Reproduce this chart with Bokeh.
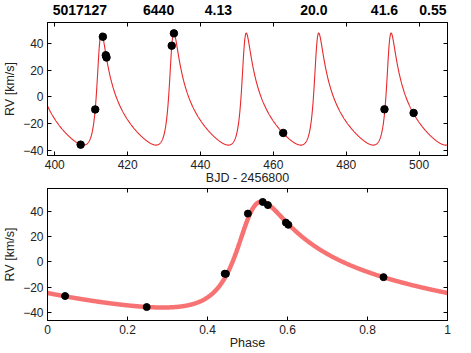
import numpy as np
from bokeh.plotting import figure
from bokeh.models import LinearAxis, Range1d, FixedTicker, CustomJSTickFormatter
from bokeh.layouts import column
from bokeh.embed import file_html
from bokeh.resources import INLINE

# ---- header values (KIC, Teff, logg, P, K, e) ----
header_labels = ["5017127", "6440", "4.13", "20.0", "41.6", "0.55"]
header_x = [406.9, 428.5, 444.9, 471.1, 490.5, 503.8]

# ---- observations ----
bjd = [407.1, 411.1, 413.2, 414.0, 414.2, 432.1, 432.7, 462.7, 490.5, 498.5]
rv = [-35.6, -9.4, 44.8, 31.0, 29.3, 38.1, 47.3, -26.9, -9.3, -12.0]
phase = [0.248, 0.446, 0.551, 0.596, 0.602, 0.501, 0.538, 0.044, 0.443, 0.840]

# ---- Keplerian orbit parameters ----
P_orb = 19.88
T_peri = 412.19
T_zero = 402.17
K_amp = 41.75
ecc = 0.55
omega_deg = 317.0
gamma = -11.0

x_ticks_top = [400, 420, 440, 460, 480, 500]
y_ticks = [-40, -20, 0, 20, 40]
x_ticks_bot = [0, 0.2, 0.4, 0.6, 0.8, 1]


def kepler_rv(t):
    M = 2 * np.pi * (np.asarray(t) - T_peri) / P_orb
    E = M.copy()
    for _ in range(60):
        E = E - (E - ecc * np.sin(E) - M) / (1 - ecc * np.cos(E))
    nu = 2 * np.arctan2(np.sqrt(1 + ecc) * np.sin(E / 2), np.sqrt(1 - ecc) * np.cos(E / 2))
    w = np.radians(omega_deg)
    return gamma + K_amp * (np.cos(nu + w) + ecc * np.cos(w))


FONT = "Liberation Sans"
TXT = "#222222"


def style(p, xticks, yticks, xlabel, xfmt=None):
    for ax in (p.xaxis[0], p.yaxis[0]):
        ax.major_tick_in = 4
        ax.major_tick_out = 0
        ax.minor_tick_line_color = None
        ax.axis_line_color = "black"
        ax.major_tick_line_color = "black"
        ax.major_label_text_font = FONT
        ax.major_label_text_font_size = "12px"
        ax.major_label_text_color = TXT
        ax.axis_label_text_font = FONT
        ax.axis_label_text_font_size = "12.5px"
        ax.axis_label_text_font_style = "normal"
        ax.axis_label_text_color = TXT
    p.xaxis[0].ticker = FixedTicker(ticks=xticks)
    p.yaxis[0].ticker = FixedTicker(ticks=yticks)
    p.xaxis[0].major_label_standoff = 4
    p.xaxis[0].axis_label_standoff = -1
    p.xaxis[0].axis_label = xlabel
    p.yaxis[0].major_label_standoff = 4
    p.yaxis[0].axis_label_standoff = 3
    p.yaxis[0].axis_label = "RV [km/s]"
    if xfmt is not None:
        p.xaxis[0].formatter = xfmt
    for loc, tk in (("right", yticks), ("above", xticks)):
        a = LinearAxis(ticker=FixedTicker(ticks=tk), major_tick_in=4, major_tick_out=0,
                       minor_tick_line_color=None, major_label_text_font_size="1px",
                       major_label_text_color=None, major_label_standoff=0,
                       axis_line_color="black")
        p.add_layout(a, loc)
    p.outline_line_color = "black"
    p.grid.visible = False
    p.background_fill_color = "white"
    p.border_fill_color = "white"


# ---------------- top panel ----------------
p1 = figure(frame_width=400, frame_height=133, output_backend="svg", toolbar_location=None,
            x_range=Range1d(398.0, 507.8), y_range=Range1d(-43.7, 55.4),
            min_border_left=47, min_border_right=4, min_border_top=22, min_border_bottom=29)
style(p1, x_ticks_top, y_ticks, "BJD - 2456800")
t_grid = np.linspace(398.0, 507.8, 2000)
p1.line(t_grid, kepler_rv(t_grid), line_color="#e8282b", line_width=1.1)
p1.scatter(bjd, rv, size=7.5, color="black")

header_axis = LinearAxis(
    ticker=FixedTicker(ticks=header_x),
    formatter=CustomJSTickFormatter(args=dict(labels=header_labels), code="return labels[index];"),
    major_tick_line_color=None, minor_tick_line_color=None, axis_line_color=None,
    major_label_standoff=2, major_label_text_font=FONT, major_label_text_font_size="14px",
    major_label_text_font_style="bold", major_label_text_color="black")
p1.add_layout(header_axis, "above")

# ---------------- bottom panel ----------------
p2 = figure(frame_width=400, frame_height=132, output_backend="svg", toolbar_location=None,
            x_range=Range1d(0, 1), y_range=Range1d(-46.2, 57.9),
            min_border_left=47, min_border_right=4, min_border_top=1, min_border_bottom=29)
bot_fmt = CustomJSTickFormatter(code="return (Math.round(tick*10)/10).toString();")
style(p2, x_ticks_bot, y_ticks, "Phase", bot_fmt)
ph_grid = np.linspace(0, 1, 800)
p2.line(ph_grid, kepler_rv(T_zero + ph_grid * P_orb), line_color="#f76b6b", line_width=4.5,
        line_alpha=0.95)
p2.scatter(phase, rv, size=7, color="black")

layout = column(p1, p2, spacing=0)
open("out.html", "w").write(file_html(layout, INLINE))
